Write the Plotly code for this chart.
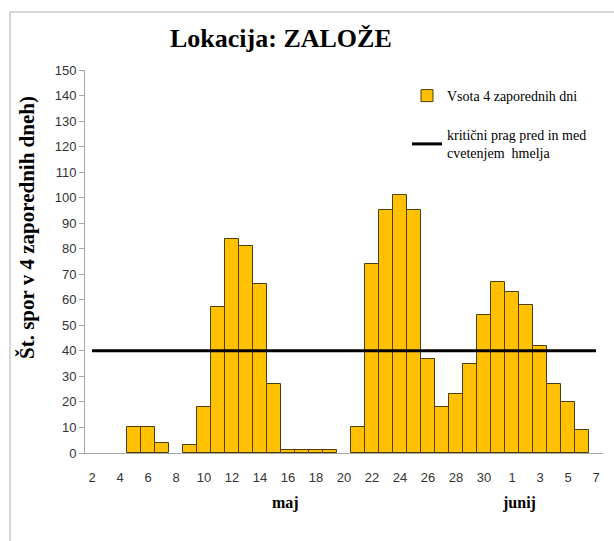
import plotly.graph_objects as go

# Day labels (May 2 .. June 7)
day_labels = ["2", "3", "4", "5", "6", "7", "8", "9", "10", "11", "12", "13", "14", "15",
              "16", "17", "18", "19", "20", "21", "22", "23", "24", "25", "26", "27", "28",
              "29", "30", "31",
              "1", "2", "3", "4", "5", "6", "7"]
# Sum of spores over 4 consecutive days
spore_sums = [0, 0, 0, 10, 10, 4, 0, 3, 18, 57, 84, 81, 66, 27,
              1, 1, 1, 1, 0, 10, 74, 95, 101, 95, 37, 18, 23,
              35, 54, 67,
              63, 58, 42, 27, 20, 9, 0]
critical_threshold = 40
y_ticks = [0, 10, 20, 30, 40, 50, 60, 70, 80, 90, 100, 110, 120, 130, 140, 150]

x_pos = list(range(len(day_labels)))
threshold_line = [critical_threshold] * len(day_labels)
# zero sums are not drawn as bars (no outline on the axis)
bar_heights = [v if v > 0 else None for v in spore_sums]

fig = go.Figure()
fig.add_trace(go.Bar(
    x=x_pos, y=bar_heights, name="Vsota 4 zaporednih dni",
    marker=dict(color="#FFC000", line=dict(color="#4a3f10", width=1)),
    width=1.0, legendgroup="a",
))
fig.add_trace(go.Scatter(
    x=x_pos, y=threshold_line, mode="lines",
    name="kritični prag pred in med<br>cvetenjem  hmelja",
    line=dict(color="black", width=3), legendgroup="b",
))

W, H = 614, 541
L, R, T, B = 85, 11, 70, 88
pw, ph = W - L - R, H - T - B

def px(xv):
    return (xv - L) / pw

def py(yv):
    return (H - B - yv) / ph

def label(text, x, y, size, angle=0):
    return dict(text=text, xref="paper", yref="paper", x=px(x), y=py(y),
                xanchor="center", yanchor="middle", showarrow=False,
                textangle=angle,
                font=dict(family="Liberation Serif", size=size, color="black"))

fig.update_layout(
    width=W, height=H,
    margin=dict(l=L, r=R, t=T, b=B),
    paper_bgcolor="white", plot_bgcolor="white",
    bargap=0,
    showlegend=True,
    legend=dict(
        x=px(407), y=py(80), xanchor="left", yanchor="top",
        font=dict(family="Liberation Serif", size=14, color="black"),
        bgcolor="rgba(0,0,0,0)", tracegroupgap=18,
        itemwidth=30,
    ),
    font=dict(family="Liberation Sans", size=13, color="#333333"),
    xaxis=dict(
        range=[-0.5, len(day_labels) - 0.5],
        tickmode="array",
        tickvals=x_pos[::2],
        ticktext=day_labels[::2],
        showgrid=False, zeroline=False,
        showline=True, linecolor="#a6a6a6", linewidth=1,
        ticks="", ticklabelstandoff=12, layer="above traces",
        tickfont=dict(family="Liberation Sans", size=13, color="#333333"),
    ),
    yaxis=dict(
        range=[0, 150],
        tickmode="array", tickvals=y_ticks,
        showgrid=False, zeroline=False,
        showline=True, linecolor="#a6a6a6", linewidth=1,
        ticks="outside", ticklen=5, tickcolor="#a6a6a6",
        tickfont=dict(family="Liberation Sans", size=13, color="#333333"),
    ),
    annotations=[
        label("<b>Lokacija: ZALOŽE</b>", 281, 38, 26),
        label("<b>Št. spor v 4 zaporednih dneh)</b>", 27, 228, 21, -90),
        label("<b>maj</b>", 285, 503, 16),
        label("<b>junij</b>", 519, 503, 16),
    ],
    shapes=[
        dict(type="line", xref="paper", yref="paper",
             x0=px(10), x1=px(620), y0=py(12), y1=py(12),
             line=dict(color="#c8c8c8", width=1.5)),
        dict(type="line", xref="paper", yref="paper",
             x0=px(10), x1=px(10), y0=py(12), y1=py(560),
             line=dict(color="#c8c8c8", width=1.5)),
    ],
)

fig.write_html("out.html", config={"displayModeBar": False},
               post_script="document.body.style.margin='0';")
